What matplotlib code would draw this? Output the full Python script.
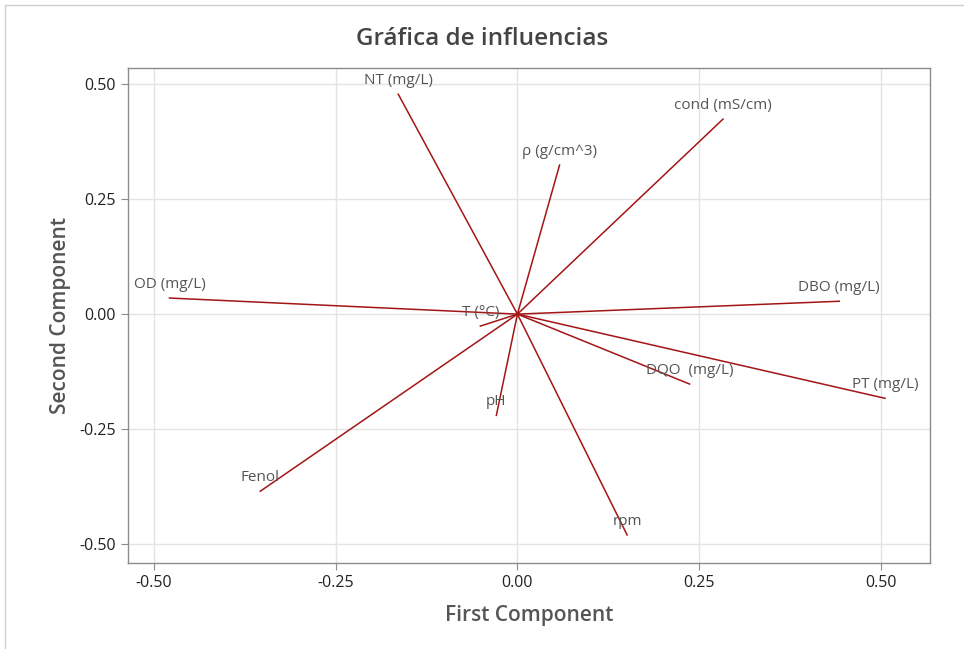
import matplotlib
matplotlib.use("Agg")
import matplotlib.pyplot as plt
from matplotlib.lines import Line2D

variables = ["NT (mg/L)", "cond (mS/cm)", "ρ (g/cm^3)", "OD (mg/L)", "DBO (mg/L)",
             "T (°C)", "DQO  (mg/L)", "PT (mg/L)", "pH", "Fenol", "rpm"]
first_comp = [-0.164, 0.283, 0.058, -0.479, 0.443, -0.051, 0.237, 0.506, -0.029, -0.354, 0.151]
second_comp = [0.478, 0.424, 0.324, 0.035, 0.028, -0.026, -0.152, -0.183, -0.220, -0.385, -0.480]
ticks = [-0.50, -0.25, 0.00, 0.25, 0.50]
tick_labels = ["-0.50", "-0.25", "0.00", "0.25", "0.50"]

plt.rcParams['font.family'] = ['Open Sans', 'DejaVu Sans']

fig = plt.figure(figsize=(9.64, 6.49), dpi=100)
ax = fig.add_axes([0.1328, 0.1325, 0.832, 0.7627])

line_color = "#a31515"
for name, x, y in zip(variables, first_comp, second_comp):
    ax.plot([0, x], [0, y], color=line_color, lw=1.1, zorder=3)
    ax.annotate(name, xy=(x, y), xytext=(0, 10), textcoords="offset points",
                ha="center", va="center", fontsize=11, color="#555555", zorder=4)

ax.set_xlim(-0.536, 0.568)
ax.set_ylim(-0.541, 0.535)
ax.set_xticks(ticks)
ax.set_xticklabels(tick_labels)
ax.set_yticks(ticks)
ax.set_yticklabels(tick_labels)
ax.grid(True, color="#e4e4e4", lw=1.0, zorder=0)
ax.set_axisbelow(True)
for s in ax.spines.values():
    s.set_color("#8c8c8c")
    s.set_linewidth(1.0)
ax.tick_params(axis="both", colors="#8c8c8c", labelcolor="#222222", labelsize=11.5, length=5)

ax.set_xlabel("First Component", fontsize=15, color="#555555", fontweight="semibold", labelpad=10)
ax.set_ylabel("Second Component", fontsize=15, color="#555555", fontweight="semibold", labelpad=6)
fig.text(0.5, 0.94, "Gráfica de influencias", ha="center", va="center",
         fontsize=17.5, color="#444444", fontweight="semibold")

# outer frame lines
fig.add_artist(Line2D([0.005, 0.005], [0.0, 0.993], transform=fig.transFigure, color="#d0d0d0", lw=1))
fig.add_artist(Line2D([0.005, 1.0], [0.993, 0.993], transform=fig.transFigure, color="#d0d0d0", lw=1))

fig.savefig("out.png", dpi=100)
